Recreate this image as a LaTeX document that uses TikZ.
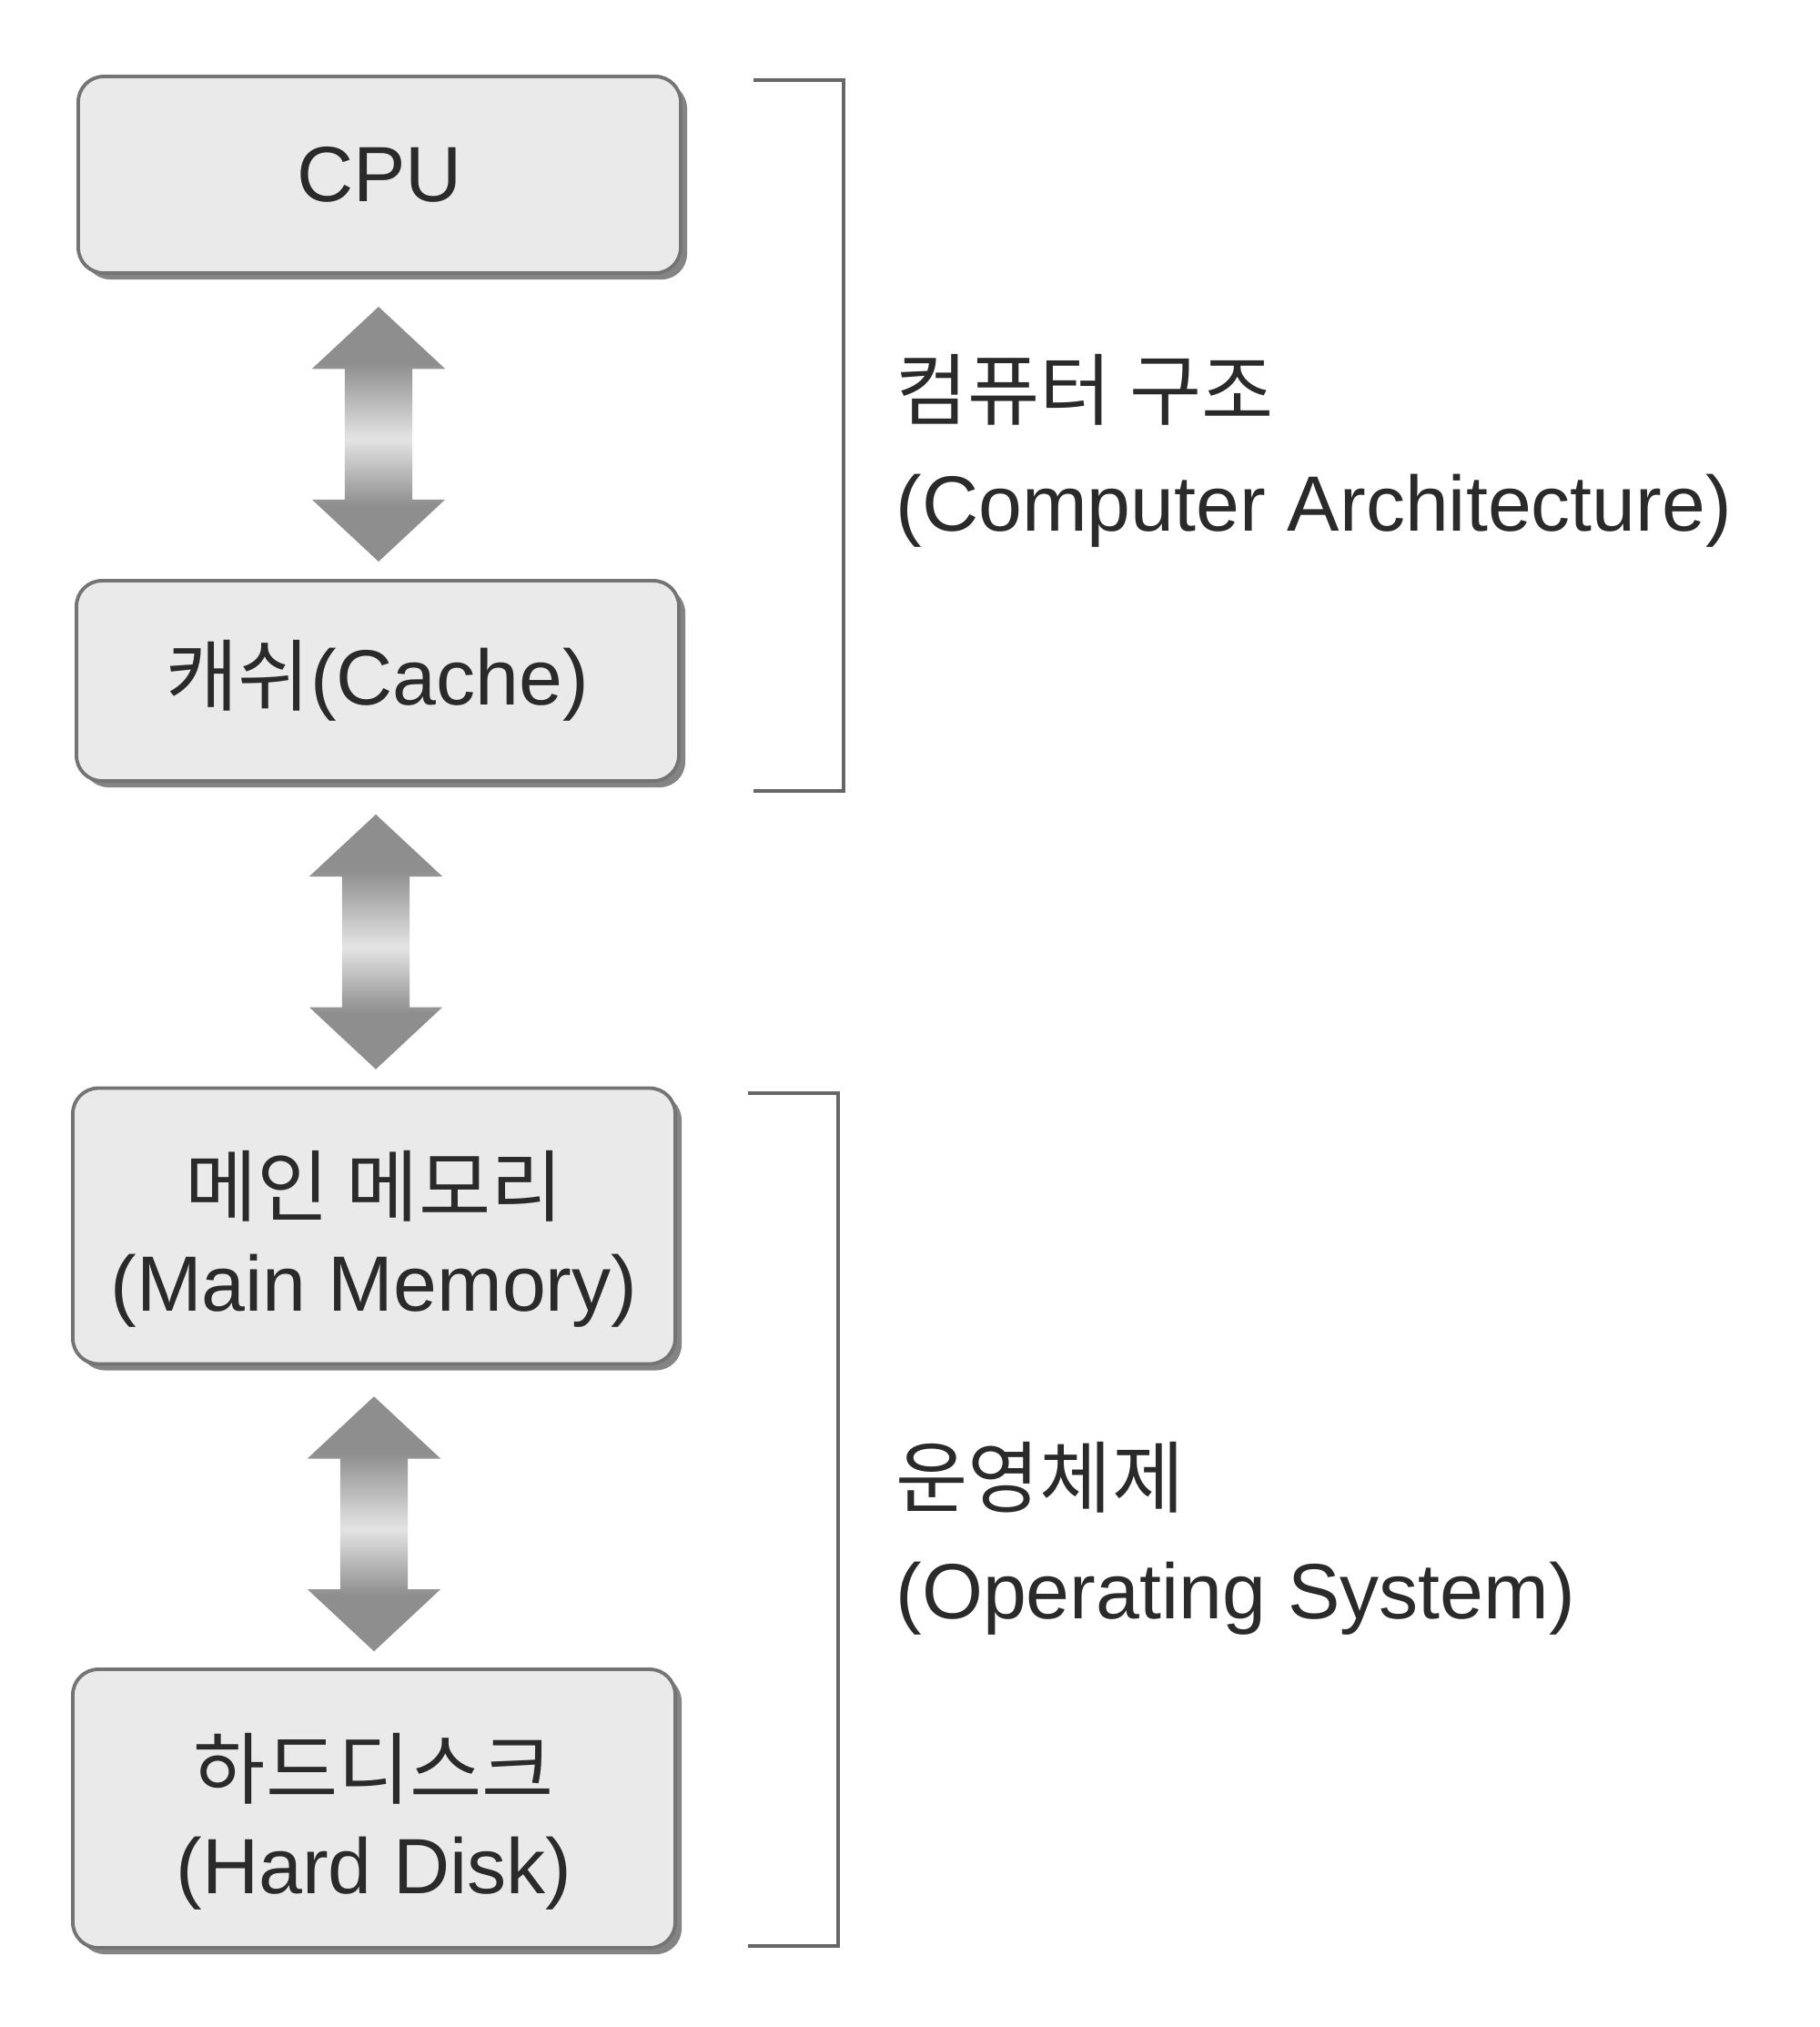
\documentclass[tikz,border=0pt]{standalone}
\usepackage{fontspec}
\setmainfont{Liberation Sans}
\newfontfamily\kor{Noto Sans CJK KR}
\usetikzlibrary{shapes.arrows,shadows}

\definecolor{boxfill}{HTML}{EAEAEA}
\definecolor{boxline}{HTML}{747474}
\definecolor{arrowgray}{HTML}{8E8E8E}
\definecolor{arrowlight}{HTML}{E4E4E4}
\definecolor{textgray}{HTML}{2A2A2A}

% along the arrow: dark heads, light middle
\pgfdeclareverticalshading{arrowshade}{100bp}{color(0bp)=(arrowgray); color(36bp)=(arrowgray); color(49bp)=(arrowlight); color(64bp)=(arrowgray); color(100bp)=(arrowgray)}

\tikzset{
  unit/.style={draw=boxline, line width=1.1pt, fill=boxfill, rounded corners=0.28cm,
    minimum width=6.62cm, align=center, text=textgray,
    font=\fontsize{24.5}{30}\selectfont,
    drop shadow={shadow xshift=0.07cm, shadow yshift=-0.07cm, fill=black!60, opacity=0.8}},
  updown/.style={double arrow, rotate=90, draw=none, shading=arrowshade,
    inner xsep=0pt, inner ysep=0.365cm,
    minimum height=2.8cm, minimum width=1.45cm, double arrow head extend=0.36cm,
    double arrow tip angle=94, xshift=-0.08cm},
  bracket/.style={draw=black!60, line width=1.4pt},
  side/.style={anchor=west, align=left, text=textgray, font=\fontsize{24.5}{35}\selectfont}
}

\begin{document}
\begin{tikzpicture}
    \useasboundingbox[fill=white] (0,0) rectangle (20,-22.27);

    % boxes
    \node[unit, minimum height=2.16cm] (cpu) at (4.17,-1.92) {CPU};
    \node[unit, minimum height=2.2cm] (cache) at (4.15,-7.48) {{\kor 캐쉬}(Cache)};
    \node[unit, minimum height=3.03cm] (mem) at (4.11,-13.47) {\rule{0pt}{1cm}{\kor 메인 메모리}\\(Main Memory)};
    \node[unit, minimum height=3.06cm] (hdd) at (4.11,-19.87) {\rule{0pt}{1cm}{\kor 하드디스크}\\(Hard Disk)};

    % arrows between levels
    \path (cpu.south) -- node[updown] (a1) {} (cache.north);
    \path (cache.south) -- node[updown] (a2) {} (mem.north);
    \path (mem.south) -- node[updown] (a3) {} (hdd.north);

    % brackets
    \draw[bracket] (8.28,-0.88) -| (9.27,-8.69) -- (8.28,-8.69);
    \draw[bracket] (8.22,-12.01) -| (9.21,-21.38) -- (8.22,-21.38);

    \node[side] (arch) at (9.72,-4.95) {{\kor 컴퓨터 구조}\\(Computer Architecture)};
    \node[side] (os) at (9.72,-16.9) {{\kor 운영체제}\\(Operating System)};
\end{tikzpicture}
\end{document}
